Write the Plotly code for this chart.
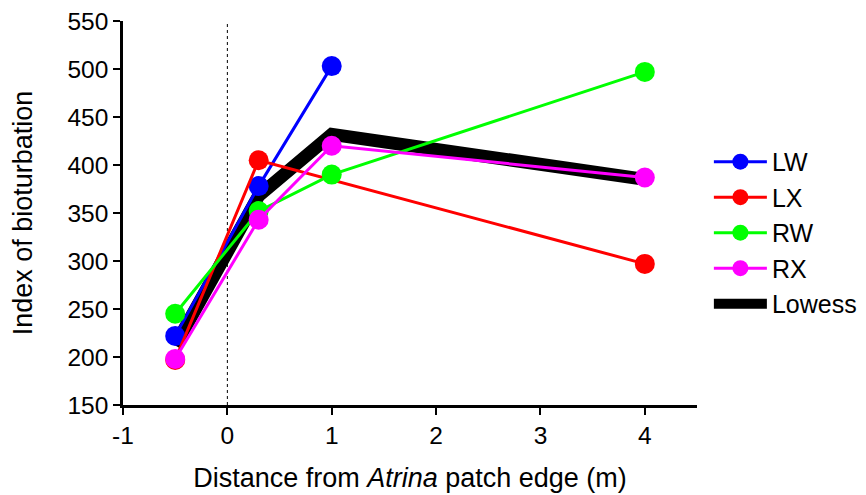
import plotly.graph_objects as go

# Data
x_pos = [-0.5, 0.3, 1, 4]
LW = [222, 378, 503, None]
LX = [197, 405, None, 297]
RW = [245, 352, 390, 497]
RX = [198, 343, 420, 387]
lowess_x = [-0.5, 0.3, 1, 4]
lowess_y = [212, 368, 432, 385]

series = [("LW", LW, "#0000FF"), ("LX", LX, "#FF0000"), ("RW", RW, "#00FF00"), ("RX", RX, "#FF00FF")]

fig = go.Figure()

fig.add_trace(go.Scatter(x=lowess_x, y=lowess_y, mode="lines", name="Lowess",
                         line=dict(color="black", width=13), legendrank=1005))

for i, (name, vals, col) in enumerate(series):
    xs = [x for x, v in zip(x_pos, vals) if v is not None]
    ys = [v for v in vals if v is not None]
    fig.add_trace(go.Scatter(x=xs, y=ys, mode="lines+markers", name=name,
                             line=dict(color=col, width=3),
                             marker=dict(color=col, size=20),
                             legendrank=1000 + i))

fig.add_shape(type="line", x0=0, x1=0, y0=150, y1=550, xref="x", yref="y",
              line=dict(color="black", width=1, dash="dot"), layer="below")

font = "Liberation Sans, Arial, sans-serif"
fig.update_layout(
    width=866, height=495,
    margin=dict(l=115, r=169, t=13, b=98),
    plot_bgcolor="white", paper_bgcolor="white",
    font=dict(family=font, size=24, color="black"),
    showlegend=True,
    legend=dict(x=1.0207, y=0.693, xanchor="left", yanchor="top",
                font=dict(size=25), bgcolor="rgba(0,0,0,0)",
                itemsizing="trace", tracegroupgap=0, itemwidth=53),
    xaxis=dict(range=[-1, 4.5], tickvals=[-1, 0, 1, 2, 3, 4], ticktext=["-1", "0", "1", "2", "3", "4"],
               showgrid=False, zeroline=False, showline=True, linecolor="black", linewidth=2.5,
               ticks="outside", ticklen=7, tickwidth=2, tickcolor="black", ticklabeloverflow="allow",
               automargin=False,
               title=dict(text="Distance from <i>Atrina</i> patch edge (m)", standoff=20, font=dict(size=27)),
               tickfont=dict(size=24.5)),
    yaxis=dict(range=[150, 550], tickvals=list(range(150, 551, 50)),
               showgrid=False, zeroline=False, showline=True, linecolor="black", linewidth=2.5,
               ticks="outside", ticklen=7, tickwidth=2, tickcolor="black", ticklabeloverflow="allow",
               automargin=False,
               title=dict(text="Index of bioturbation", standoff=30, font=dict(size=27)),
               tickfont=dict(size=24.5)),
)

fig.write_html("out.html")
